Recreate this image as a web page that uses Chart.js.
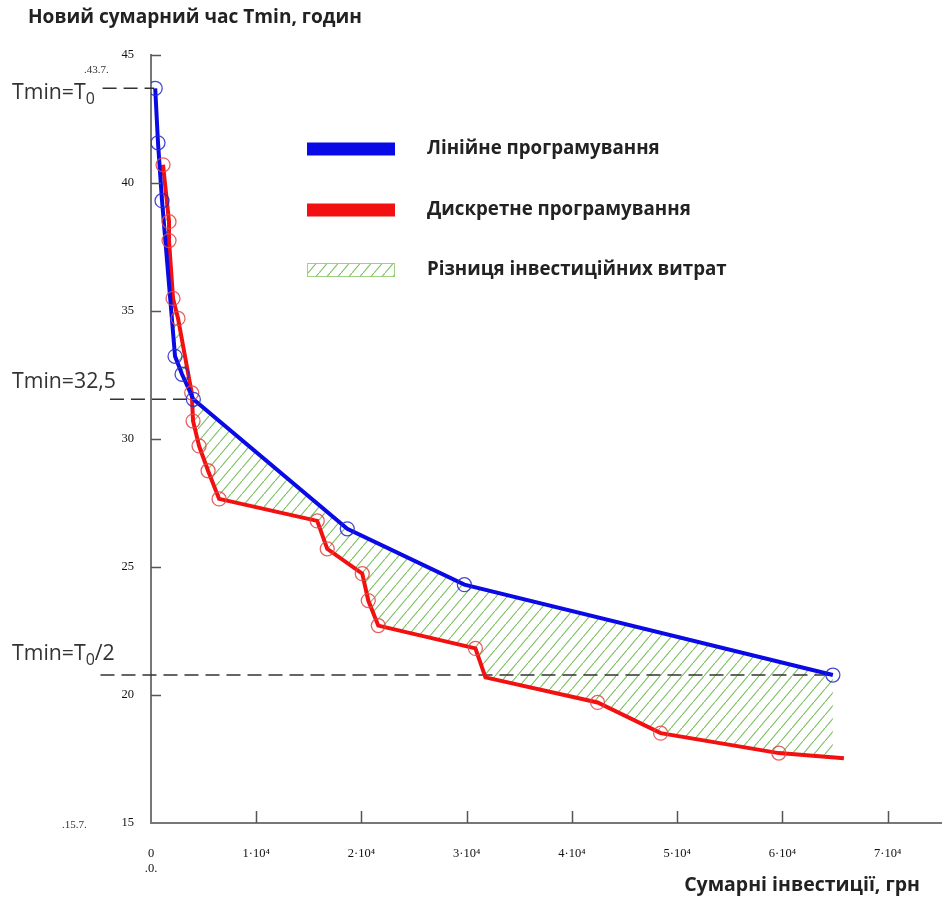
<!DOCTYPE html>
<html lang="uk">
<head>
  <meta charset="UTF-8">
  <title>Сумарні інвестиції</title>
  <script src="https://cdn.jsdelivr.net/npm/chart.js"></script>
  <style>
    html, body { margin: 0; padding: 0; background: #fff; }
  </style>
</head>
<body>
  <canvas id="grafico" width="942" height="898"></canvas>

<script>
  // Значення
  // Лінійне програмування: інвестиції (грн) і час Tmin (годин)
  var blueX = [400, 666, 1047, 2284, 2950, 4025, 18650, 29780, 64795];
  var blueY = [43.7, 41.57, 39.31, 33.23, 32.53, 31.55, 26.49, 24.31, 20.78];

  // Дискретне програмування: вершини ламаної
  var redX = [1142, 1713, 1713, 2093, 2569, 3870, 3996, 4567, 5423, 6470, 15794, 16746,
    20076, 20647, 21599, 30828, 31779, 42436, 48430, 59658, 65842];
  var redY = [40.71, 38.49, 37.75, 35.49, 34.71, 31.80, 30.70, 29.73, 28.76, 27.66, 26.80, 25.71,
    24.74, 23.69, 22.71, 21.82, 20.69, 19.71, 18.51, 17.73, 17.53];
  // точки з кружечками
  var redMarkX = [1142, 1713, 1713, 2093, 2569, 3870, 3996, 4567, 5423, 6470, 15794, 16746,
    20076, 20647, 21599, 30828, 42436, 48430, 59658];
  var redMarkY = [40.71, 38.49, 37.75, 35.49, 34.71, 31.80, 30.70, 29.73, 28.76, 27.66, 26.80, 25.71,
    24.74, 23.69, 22.71, 21.82, 19.71, 18.51, 17.73];

  // пунктирні рівні Tmin
  var dashLevels = [43.7, 31.55, 20.78];
  var dashFromX = [-4600, -3900, -4800];
  var dashToX = [300, 3425, 64795];
  var dashNames = ['Tmin=T0', 'Tmin=32,5', 'Tmin=T0/2'];

  var xTicks = [0, 10000, 20000, 30000, 40000, 50000, 60000, 70000];
  var yTicks = [15, 20, 25, 30, 35, 40, 45];
  var xMin = 0, xMax = 74375, yMin = 15, yMax = 45;

  var legendNames = ['Лінійне програмування', 'Дискретне програмування', 'Різниця інвестиційних витрат'];

  function pontos(xs, ys) {
    var lista = [];
    for (var i = 0; i < xs.length; i++) {
      lista.push({ x: xs[i], y: ys[i] });
    }
    return lista;
  }

  var canva = document.getElementById("grafico");
  var ctx0 = canva.getContext('2d');

  // штрихування для різниці витрат
  function hatch() {
    var c = document.createElement('canvas');
    c.width = 11; c.height = 13;
    var g = c.getContext('2d');
    g.strokeStyle = 'rgba(110,185,80,0.95)';
    g.lineWidth = 1.1;
    g.beginPath();
    g.moveTo(-11, 26); g.lineTo(22, -13);
    g.stroke();
    return ctx0.createPattern(c, 'repeat');
  }
  var padrao = hatch();

  // підбір розміру шрифту під ширину
  function fitFont(ctx, text, width, weight) {
    ctx.font = weight + ' 100px "Open Sans"';
    var w = ctx.measureText(text).width;
    return 100 * width / w;
  }

  var decor = {
    id: 'decor',
    afterDraw: function (chart) {
      var ctx = chart.ctx;
      var xs = chart.scales.x, ys = chart.scales.y;
      var x0 = xs.getPixelForValue(0), y0 = ys.getPixelForValue(yMin);
      ctx.save();

      // вісь X тягнеться до краю
      ctx.strokeStyle = '#777';
      ctx.lineWidth = 2;
      ctx.beginPath();
      ctx.moveTo(chart.chartArea.right - 1, Math.round(y0));
      ctx.lineTo(chart.width, Math.round(y0));
      ctx.stroke();

      // внутрішні засічки осей
      ctx.strokeStyle = '#555';
      ctx.lineWidth = 1.5;
      ctx.beginPath();
      for (var i = 1; i < yTicks.length; i++) {
        var py = Math.round(ys.getPixelForValue(yTicks[i])) + 0.5;
        ctx.moveTo(x0, py); ctx.lineTo(x0 + 10, py);
      }
      for (var j = 1; j < xTicks.length; j++) {
        var px = Math.round(xs.getPixelForValue(xTicks[j])) + 0.5;
        ctx.moveTo(px, y0); ctx.lineTo(px, y0 - 12);
      }
      ctx.stroke();

      // дрібні позначки меж
      ctx.fillStyle = '#333';
      ctx.font = '11px "Liberation Serif"';
      ctx.textBaseline = 'middle';
      ctx.textAlign = 'left';
      ctx.fillText('.43.7.', 84, ys.getPixelForValue(dashLevels[0]) - 18);
      ctx.fillText('.15.7.', 62, y0 + 2);

      // підписи осей
      ctx.fillStyle = '#222';
      var fs = fitFont(ctx, 'Новий сумарний час Tmin, годин', 334, 'bold');
      ctx.font = 'bold ' + fs + 'px "Open Sans"';
      ctx.fillText('Новий сумарний час Tmin, годин', 28, 18);
      fs = fitFont(ctx, 'Сумарні інвестиції, грн', 236, 'bold');
      ctx.font = 'bold ' + fs + 'px "Open Sans"';
      ctx.textAlign = 'right';
      ctx.fillText('Сумарні інвестиції, грн', 920, 885);

      // підписи рівнів Tmin
      ctx.textAlign = 'left';
      ctx.fillStyle = '#333';
      var ft = fitFont(ctx, 'Tmin=32,5', 104, 'normal');
      var offs = [5, -17, -21];
      for (var k = 0; k < dashLevels.length; k++) {
        var ly = ys.getPixelForValue(dashLevels[k]) + offs[k];
        var lx = 12;
        ctx.font = ft + 'px "Open Sans"';
        if (dashNames[k].indexOf('T0') >= 0) {
          ctx.fillText('Tmin=T', lx, ly);
          lx += ctx.measureText('Tmin=T').width;
          ctx.font = (ft * 0.75) + 'px "Open Sans"';
          ctx.fillText('0', lx, ly + 6);
          lx += ctx.measureText('0').width;
          ctx.font = ft + 'px "Open Sans"';
          if (dashNames[k].indexOf('/2') >= 0) ctx.fillText('/2', lx, ly);
        } else {
          ctx.fillText(dashNames[k], lx, ly);
        }
      }

      // легенда
      var legY = [149, 210, 270];
      ctx.lineWidth = 13;
      ctx.strokeStyle = '#0a0ae6';
      ctx.beginPath(); ctx.moveTo(307, legY[0]); ctx.lineTo(395, legY[0]); ctx.stroke();
      ctx.strokeStyle = '#f21010';
      ctx.beginPath(); ctx.moveTo(307, legY[1]); ctx.lineTo(395, legY[1]); ctx.stroke();
      ctx.fillStyle = padrao;
      ctx.fillRect(307, legY[2] - 7, 88, 14);
      ctx.lineWidth = 1;
      ctx.strokeStyle = 'rgba(150,205,120,0.9)';
      ctx.strokeRect(307.5, legY[2] - 6.5, 87, 13);

      var fl = fitFont(ctx, legendNames[2], 300, 'bold');
      ctx.font = 'bold ' + fl + 'px "Open Sans"';
      ctx.fillStyle = '#222';
      for (var m = 0; m < legendNames.length; m++) {
        ctx.fillText(legendNames[m], 427, legY[m]);
      }
      ctx.restore();
    }
  };

  var conjuntos = [
    {
      label: 'blue marks',
      data: pontos(blueX, blueY),
      showLine: false,
      pointRadius: 7,
      pointBorderWidth: 1.3,
      pointBorderColor: 'rgba(40,40,205,0.85)',
      pointBackgroundColor: 'rgba(0,0,0,0)'
    },
    {
      label: 'red marks',
      data: pontos(redMarkX, redMarkY),
      showLine: false,
      pointRadius: 7,
      pointBorderWidth: 1.3,
      pointBorderColor: 'rgba(225,70,70,0.85)',
      pointBackgroundColor: 'rgba(0,0,0,0)'
    },
    {
      label: legendNames[0],
      data: pontos(blueX, blueY),
      borderColor: '#0a0ae6',
      borderWidth: 4,
      pointRadius: 0,
      backgroundColor: padrao,
      fill: { target: 3 }
    },
    {
      label: legendNames[1],
      data: pontos(redX, redY),
      borderColor: '#f21010',
      borderWidth: 4,
      pointRadius: 0,
      fill: false
    }
  ];
  for (var d = 0; d < dashLevels.length; d++) {
    conjuntos.push({
      label: dashNames[d],
      data: [{ x: dashFromX[d], y: dashLevels[d] }, { x: dashToX[d], y: dashLevels[d] }],
      borderColor: '#333',
      borderWidth: 1.5,
      borderDash: [14, 7],
      pointRadius: 0,
      fill: false,
      clip: false
    });
  }

  var grafico = new Chart(canva, {
    type: 'line',
    data: { datasets: conjuntos },
    options: {
      responsive: false,
      animation: false,
      events: [],
      layout: { padding: { top: 55, left: 0, right: 0, bottom: 0 } },
      plugins: {
        legend: { display: false },
        tooltip: { enabled: false },
        filler: { drawTime: 'beforeDatasetsDraw' }
      },
      scales: {
        x: {
          type: 'linear',
          min: xMin,
          max: xMax,
          afterBuildTicks: function (scale) {
            scale.ticks = xTicks.map(function (v) { return { value: v }; });
          },
          afterFit: function (scale) {
            scale.height = 75;
          },
          grid: { display: false },
          border: { display: true, color: '#777', width: 2 },
          ticks: {
            padding: 15,
            color: '#111',
            font: { family: 'Liberation Serif', size: 12.5 },
            callback: function (v) {
              return v === 0 ? ['0', '.0.'] : (v / 10000) + '·10⁴';
            }
          }
        },
        y: {
          type: 'linear',
          min: yMin,
          max: yMax,
          afterBuildTicks: function (scale) {
            scale.ticks = yTicks.map(function (v) { return { value: v }; });
          },
          afterFit: function (scale) {
            scale.width = 151;
          },
          grid: { display: false },
          border: { display: true, color: '#777', width: 2 },
          ticks: {
            padding: 9,
            color: '#111',
            font: { family: 'Liberation Serif', size: 12.5 },
            callback: function (v) { return String(v); }
          }
        }
      }
    },
    plugins: [decor]
  });
</script>
</body>
</html>
